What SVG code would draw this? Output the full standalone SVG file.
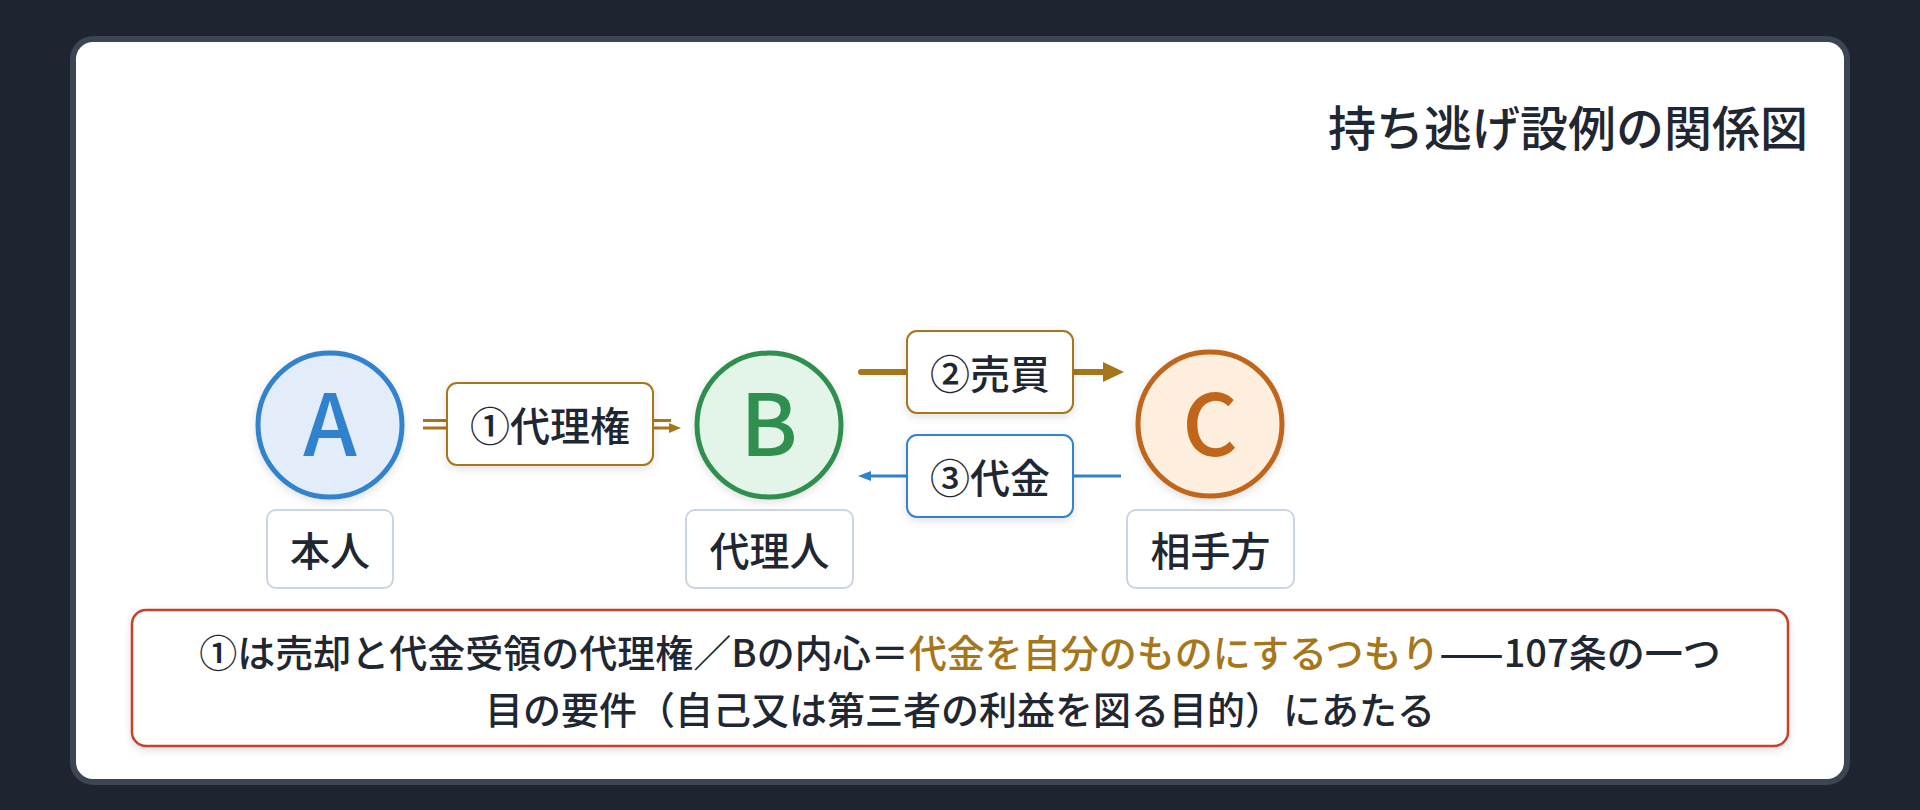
<svg xmlns="http://www.w3.org/2000/svg" width="1920" height="810" viewBox="0 0 1920 810">
  <style>
    text { font-family: "Noto Sans CJK JP", "Noto Sans", "Liberation Sans", sans-serif; fill: #1f2733; }
    .lbl { font-size: 40px; font-weight: 500; text-anchor: middle; dominant-baseline: central; }
    .letter { font-size: 86px; font-weight: 500; text-anchor: middle; }
    .name { fill: #ffffff; stroke: #cbd5e1; stroke-width: 2; }
    .gold { stroke: #a5761a; }
    .note { font-size: 38px; font-weight: 500; text-anchor: middle; dominant-baseline: central; }
  </style>
  <defs>
    <filter id="sh" x="-20%" y="-20%" width="140%" height="150%">
      <feDropShadow dx="0" dy="3" stdDeviation="4" flood-color="#000000" flood-opacity="0.12"/>
    </filter>
  </defs>
  <rect x="0" y="0" width="1920" height="810" fill="#1e2530"/>
  <rect x="73" y="39" width="1774" height="743" rx="20" fill="#ffffff" stroke="#3b4554" stroke-width="6"/>
  <text x="1808" y="125" style="font-size:48px;font-weight:500;text-anchor:end;dominant-baseline:central">持ち逃げ設例の関係図</text>

  <g id="connectors">
    <g id="edge-1">
      <line x1="423" y1="420.5" x2="671" y2="420.5" stroke="#a5761a" stroke-width="3"/>
      <line x1="423" y1="428" x2="671" y2="428" stroke="#a5761a" stroke-width="3"/>
      <polygon points="669,423 681,428 669,433" fill="#a5761a"/>
      <rect x="447" y="383" width="206" height="82" rx="10" fill="#ffffff" stroke="#a5761a" stroke-width="2" filter="url(#sh)"/>
      <text class="lbl" x="550" y="424">①代理権</text>
    </g>
    <g id="edge-2">
      <line x1="861" y1="372" x2="1106" y2="372" stroke="#a5761a" stroke-width="6" stroke-linecap="round"/>
      <polygon points="1103,362 1124,372 1103,382" fill="#a5761a"/>
      <rect x="907" y="331" width="166" height="82" rx="10" fill="#ffffff" stroke="#a5761a" stroke-width="2" filter="url(#sh)"/>
      <text class="lbl" x="990" y="372">②売買</text>
    </g>
    <g id="edge-3">
      <line x1="868" y1="476" x2="1121" y2="476" stroke="#3182ce" stroke-width="3"/>
      <polygon points="871,471 858,476 871,481" fill="#3182ce"/>
      <rect x="907" y="435" width="166" height="82" rx="10" fill="#ffffff" stroke="#3182ce" stroke-width="2" filter="url(#sh)"/>
      <text class="lbl" x="990" y="476">③代金</text>
    </g>
  </g>

  <g id="node-A">
    <circle cx="330" cy="425" r="72" fill="#e3edf9" stroke="#3182ce" stroke-width="5" filter="url(#sh)"/>
    <text class="letter" x="330" y="456" style="fill:#3182ce">A</text>
    <rect class="name" x="267" y="510" width="126" height="78" rx="9"/>
    <text class="lbl" x="330" y="549">本人</text>
  </g>
  <g id="node-B">
    <circle cx="769" cy="425" r="72" fill="#e3f5e8" stroke="#2f8f4f" stroke-width="5" filter="url(#sh)"/>
    <text class="letter" x="769" y="456" style="fill:#2f8f4f">B</text>
    <rect class="name" x="686" y="510" width="167" height="78" rx="9"/>
    <text class="lbl" x="769.5" y="549">代理人</text>
  </g>
  <g id="node-C">
    <circle cx="1210" cy="424" r="72" fill="#fdeedd" stroke="#c0651a" stroke-width="5" filter="url(#sh)"/>
    <text class="letter" x="1210" y="456" style="fill:#c0651a">C</text>
    <rect class="name" x="1127" y="510" width="167" height="78" rx="9"/>
    <text class="lbl" x="1210.5" y="549">相手方</text>
  </g>

  <g id="note">
    <rect x="132" y="610" width="1656" height="136" rx="14" fill="#ffffff" stroke="#c8402b" stroke-width="2.5" filter="url(#sh)"/>
    <text class="note" x="960" y="650">①は売却と代金受領の代理権／Bの内心＝<tspan style="fill:#a5761a">代金を自分のものにするつもり</tspan>——107条の一つ</text>
    <text class="note" x="960" y="707">目の要件（自己又は第三者の利益を図る目的）にあたる</text>
  </g>
</svg>
